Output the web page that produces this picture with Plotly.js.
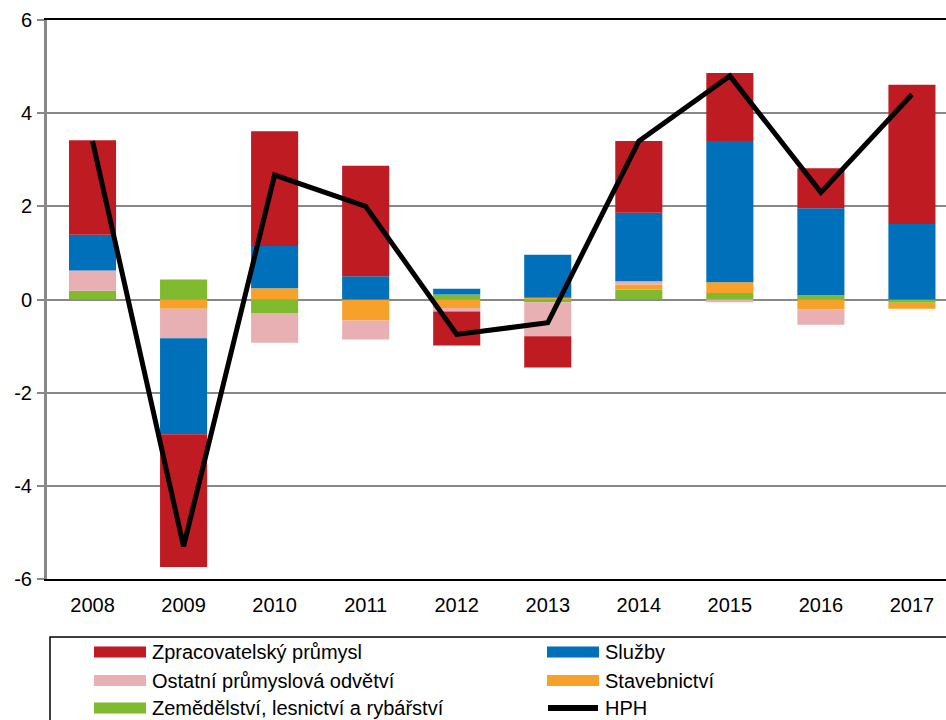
<!DOCTYPE html>
<html>
<head>
<meta charset="utf-8">
<script src="https://cdn.plot.ly/plotly-3.0.1.min.js"></script>
<style>
  html, body { margin: 0; padding: 0; overflow: hidden; background: #fff; }
  #chart { width: 946px; height: 720px; }
</style>
</head>
<body>
<div id="chart"></div>
<script>
// ---------- data ----------
const years = ['2008','2009','2010','2011','2012','2013','2014','2015','2016','2017'];

const zpracovatelsky = [2.03, -2.85, 2.46, 2.37, -0.73, -0.67, 1.54, 1.46, 0.86, 2.99];
const sluzby         = [0.77, -2.06, 0.91, 0.50, 0.12, 0.92, 1.47, 3.03, 1.87, 1.62];
const ostatni        = [0.43, -0.63, -0.64, -0.41, -0.08, -0.73, 0.07, -0.06, -0.33, 0.00];
const stavebnictvi   = [0.00, -0.20, 0.24, -0.45, -0.18, 0.04, 0.11, 0.23, -0.21, -0.13];
const zemedelstvi    = [0.19, 0.43, -0.29, 0.00, 0.11, -0.06, 0.21, 0.14, 0.09, -0.07];
const hph            = [3.40, -5.30, 2.67, 2.00, -0.75, -0.50, 3.40, 4.80, 2.30, 4.40];

const seriesNames = ['Zpracovatelský průmysl', 'Služby', 'Ostatní průmyslová odvětví',
                     'Stavebnictví', 'Zemědělství, lesnictví a rybářství', 'HPH'];
const seriesColors = ['#BE1B23', '#0070BA', '#E8B0B2', '#F7A12B', '#80BA2E', '#000000'];
const yTicks = [-6, -4, -2, 0, 2, 4, 6];

// ---------- traces (stack order bottom-up: green, orange, pink, blue, red) ----------
const stackOrder = [
  {name: seriesNames[4], y: zemedelstvi,  color: seriesColors[4]},
  {name: seriesNames[3], y: stavebnictvi, color: seriesColors[3]},
  {name: seriesNames[2], y: ostatni,      color: seriesColors[2]},
  {name: seriesNames[1], y: sluzby,       color: seriesColors[1]},
  {name: seriesNames[0], y: zpracovatelsky, color: seriesColors[0]}
];

const FONT = '"Liberation Sans", Arial, sans-serif';

const traces = stackOrder.map(s => ({
  type: 'bar', x: years, y: s.y, name: s.name,
  marker: {color: s.color, line: {width: 0}},
  showlegend: false, hoverinfo: 'x+y+name'
}));
traces.push({
  type: 'scatter', mode: 'lines', x: years, y: hph, name: seriesNames[5],
  line: {color: seriesColors[5], width: 5}, showlegend: false
});

// ---------- custom legend (wide swatches, two columns) ----------
const legendLayout = [ // [column, row] for each series name
  [0,0],[1,0],[0,1],[1,1],[0,2],[1,2]
];
const colSwatchX = [47, 500];      // px from plot left edge
const rowY = [-73, -101.5, -129];  // px from plot bottom
const shapes = [{
  type: 'rect', xref: 'paper', yref: 'paper',
  xsizemode: 'pixel', ysizemode: 'pixel', xanchor: 0, yanchor: 0,
  x0: 3, x1: 920, y0: -58, y1: -160,
  line: {color: '#000', width: 1.5}, fillcolor: 'rgba(0,0,0,0)'
}];
const annotations = [];
seriesNames.forEach((nm, i) => {
  const [c, r] = legendLayout[i];
  const sx = colSwatchX[c], sy = rowY[r];
  if (i === 5) {
    shapes.push({type: 'line', xref: 'paper', yref: 'paper',
      xsizemode: 'pixel', ysizemode: 'pixel', xanchor: 0, yanchor: 0,
      x0: sx + 1, x1: sx + 51, y0: sy, y1: sy,
      line: {color: seriesColors[i], width: 6}});
  } else {
    shapes.push({type: 'rect', xref: 'paper', yref: 'paper',
      xsizemode: 'pixel', ysizemode: 'pixel', xanchor: 0, yanchor: 0,
      x0: sx, x1: sx + 52, y0: sy - 5.5, y1: sy + 5.5,
      line: {width: 0}, fillcolor: seriesColors[i]});
  }
  annotations.push({
    xref: 'paper', yref: 'paper', x: 0, y: 0, xanchor: 'left', yanchor: 'middle',
    xshift: sx + 56, yshift: sy, showarrow: false, text: nm,
    font: {family: FONT, size: 20, color: '#000'}
  });
});

const layout = {
  width: 946, height: 720,
  margin: {l: 47, r: 0, t: 20, b: 141},
  paper_bgcolor: '#fff', plot_bgcolor: '#fff',
  barmode: 'relative', bargap: 0.483,
  showlegend: false,
  font: {family: FONT, size: 20, color: '#000'},
  xaxis: {
    type: 'category', range: [-0.5, 9.374], fixedrange: true,
    showline: true, linecolor: '#000', linewidth: 2, mirror: true,
    showgrid: false, zeroline: false, ticks: 'outside', ticklen: 7, tickcolor: 'rgba(0,0,0,0)',
    tickfont: {family: FONT, size: 20, color: '#000'}
  },
  xaxis2: {
    overlaying: 'x', anchor: 'free', position: 0.5, side: 'bottom',
    type: 'linear', range: [-0.5, 9.374], tick0: 0.5, dtick: 1,
    showline: true, linecolor: '#888888', linewidth: 2,
    ticks: 'outside', ticklen: 5, tickwidth: 1.5, tickcolor: '#888888',
    showticklabels: false, showgrid: false, zeroline: false, layer: 'above traces'
  },
  yaxis: {
    range: [-6, 6], tickvals: yTicks, ticktext: yTicks.map(String),
    showline: true, linecolor: '#888888', linewidth: 3,
    ticks: 'outside', ticklen: 7, tickwidth: 2, tickcolor: '#888888',
    showgrid: true, gridcolor: '#888888', gridwidth: 2, zeroline: false,
    tickfont: {family: FONT, size: 20, color: '#000'}, ticklabelstandoff: 1
  },
  shapes: shapes,
  annotations: annotations
};

Plotly.newPlot('chart', traces, layout, {displayModeBar: false, staticPlot: true});
</script>
</body>
</html>
